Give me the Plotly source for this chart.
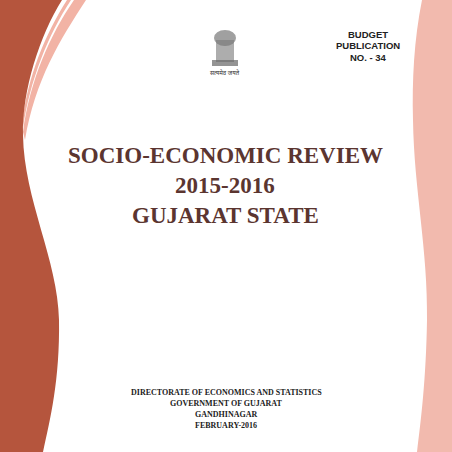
import plotly.graph_objects as go

title_lines = ["SOCIO-ECONOMIC REVIEW", "2015-2016", "GUJARAT STATE"]
title_y = [155, 185, 215]
pub_lines = ["BUDGET", "PUBLICATION", "NO. - 34"]
pub_y = [34, 45, 57]
foot_lines = ["DIRECTORATE OF ECONOMICS AND STATISTICS", "GOVERNMENT OF GUJARAT", "GANDHINAGAR", "FEBRUARY-2016"]
foot_y = [392, 403, 414, 425]

fig = go.Figure()
fig.add_trace(go.Scatter(x=[0, 452], y=[0, 452], mode="markers", marker=dict(opacity=0), hoverinfo="skip"))

shapes = []
# left pink stripes
shapes.append(dict(type="path", path="M 74 0 L 86 0 C 60 40, 35 80, 25 140 L 23 132 C 30 80, 50 35, 74 0 Z",
                   fillcolor="#F2B3A5", line=dict(width=0), layer="below"))
shapes.append(dict(type="path", path="M 67 0 L 71 0 C 48 35, 30 80, 23 128 L 22 124 C 28 75, 45 35, 67 0 Z",
                   fillcolor="#F2B3A5", line=dict(width=0), layer="below"))
# left dark band
shapes.append(dict(type="path",
                   path="M 0 0 L 62 0 C 40 35, 22 90, 23 135 C 24 200, 58 260, 59 320 C 60 380, 50 420, 43 452 L 0 452 Z",
                   fillcolor="#B5553D", line=dict(width=0), layer="below"))
# right pink band
shapes.append(dict(type="path",
                   path="M 452 0 L 422 0 C 414 40, 412 80, 413 120 C 414 190, 428 250, 427 320 C 426 380, 421 420, 417 452 L 452 452 Z",
                   fillcolor="#F2BAAE", line=dict(width=0), layer="below"))
# emblem approximation
shapes.append(dict(type="rect", x0=216, x1=234, y0=40, y1=62, fillcolor="#8a8a8a", line=dict(width=0), opacity=0.7))
shapes.append(dict(type="circle", x0=214, x1=236, y0=30, y1=46, fillcolor="#777", line=dict(width=0), opacity=0.7))
shapes.append(dict(type="rect", x0=212, x1=238, y0=60, y1=66, fillcolor="#666", line=dict(width=0), opacity=0.7))

ann = []
for t, y in zip(title_lines, title_y):
    ann.append(dict(x=225, y=y, text="<b>%s</b>" % t, showarrow=False,
                    font=dict(family="Liberation Serif", size=23, color="#5B3530")))
for t, y in zip(pub_lines, pub_y):
    ann.append(dict(x=368, y=y, text="<b>%s</b>" % t, showarrow=False,
                    font=dict(family="Liberation Sans", size=9.5, color="#222")))
for t, y in zip(foot_lines, foot_y):
    ann.append(dict(x=226, y=y, text="<b>%s</b>" % t, showarrow=False,
                    font=dict(family="Liberation Serif", size=8, color="#222")))
ann.append(dict(x=225, y=73, text="सत्यमेव जयते", showarrow=False,
                font=dict(family="Noto Sans", size=6, color="#333")))

fig.update_layout(width=452, height=452, margin=dict(l=0, r=0, t=0, b=0),
                  paper_bgcolor="white", plot_bgcolor="white", showlegend=False,
                  shapes=shapes, annotations=ann,
                  xaxis=dict(range=[0, 452], visible=False, fixedrange=True),
                  yaxis=dict(range=[452, 0], visible=False, fixedrange=True))
fig.write_html("out.html", config={"displayModeBar": False},
               post_script="document.body.style.margin='0';document.body.style.overflow='hidden';")
